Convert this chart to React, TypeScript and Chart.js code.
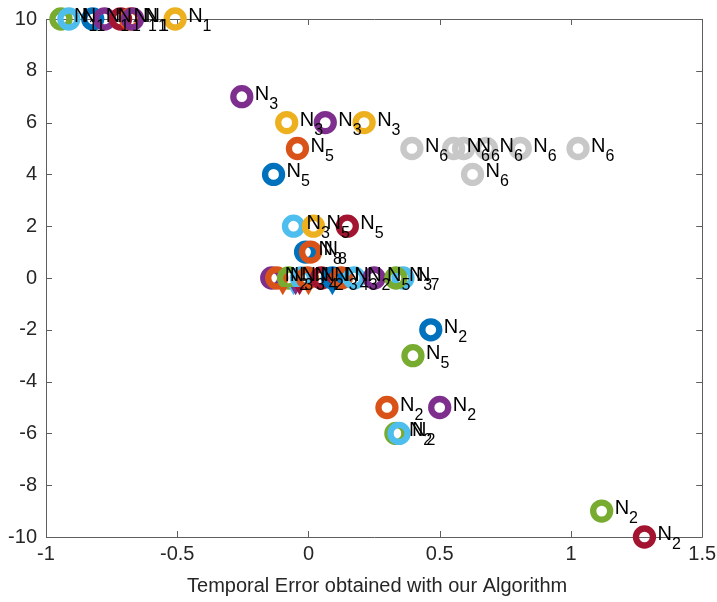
import React, { useEffect, useRef } from 'react';
import { Chart, registerables } from 'chart.js';

Chart.register(...registerables);

const FONT = '"Liberation Sans", Arial, Helvetica, sans-serif';

const seriesColors = ['#0072BD', '#D95319', '#EDB120', '#7E2F8E', '#77AC30', '#4DBEEE', '#A2142F', '#C8C8C8'];

const xTickValues = [-1, -0.5, 0, 0.5, 1, 1.5];
const xTickLabels = ['-1', '-0.5', '0', '0.5', '1', '1.5'];
const yTickValues = [-10, -8, -6, -4, -2, 0, 2, 4, 6, 8, 10];
const yTickLabels = ['-10', '-8', '-6', '-4', '-2', '0', '2', '4', '6', '8', '10'];
const xAxisTitle = 'Temporal Error obtained with our Algorithm';

// ring markers (x, y, colour index, subscript of the N label)
const ringX = [
  -0.943, -0.913, -0.822, -0.777, -0.716, -0.678, -0.670, -0.508,
  -0.254,
  -0.083, 0.064, 0.212,
  -0.042, 0.394, 0.553, 0.591, 0.678, 0.807, 1.027,
  -0.133, 0.625,
  -0.057, 0.019, 0.148,
  -0.011, 0.008,
  -0.140, -0.121, -0.076, -0.027, -0.004, 0.049, 0.091, 0.125, 0.174, 0.250, 0.360, 0.333,
  0.466, 0.398, 0.299, 0.500, 0.333, 0.345, 1.117, 1.280,
];
const ringY = [
  10, 10, 10, 10, 10, 10, 10, 10,
  7,
  6, 6, 6,
  5, 5, 5, 5, 5, 5, 5,
  4, 4,
  2, 2, 2,
  1, 1,
  0, 0, 0, 0, 0, 0, 0, 0, 0, 0, 0, 0,
  -2, -3, -5, -5, -6, -6, -9, -10,
];
const ringColor = [
  4, 5, 0, 3, 6, 1, 3, 2,
  3,
  2, 3, 2,
  1, 7, 7, 7, 7, 7, 7,
  0, 7,
  5, 2, 6,
  0, 1,
  3, 1, 4, 5, 1, 6, 0, 1, 5, 3, 5, 4,
  0, 4, 1, 3, 4, 5, 4, 6,
];
const ringSub = [
  '1', '1', '1', '1', '1', '1', '1', '1',
  '3',
  '3', '3', '3',
  '5', '6', '6', '6', '6', '6', '6',
  '5', '6',
  '3', '5', '5',
  '8', '8',
  '2', '3', '3', '4', '2', '3', '4', '3', '2', '5', '7', '3',
  '2', '5', '2', '2', '2', '2', '2', '2',
];

// small downward triangles under the cluster at zero
const triX = [-0.098, -0.057, -0.049, -0.034, 0.0, 0.091];
const triY = [-0.45, -0.45, -0.45, -0.45, -0.45, -0.45];
const triColor = [1, 5, 3, 6, 1, 0];

const boxPlugin = {
  id: 'matlabBox',
  beforeDatasetsDraw(chart: any) {
    const { ctx, chartArea } = chart;
    const { left, right, top, bottom } = chartArea;
    const xs = chart.scales.x;
    const ys = chart.scales.y;
    ctx.save();
    ctx.strokeStyle = '#5e5e5e';
    ctx.lineWidth = 1;
    ctx.beginPath();
    ctx.rect(Math.round(left) + 0.5, Math.round(top) + 0.5, Math.round(right - left), Math.round(bottom - top));
    const tl = 6;
    xTickValues.forEach((v) => {
      const px = Math.round(xs.getPixelForValue(v)) + 0.5;
      ctx.moveTo(px, bottom);
      ctx.lineTo(px, bottom - tl);
      ctx.moveTo(px, top);
      ctx.lineTo(px, top + tl);
    });
    yTickValues.forEach((v) => {
      const py = Math.round(ys.getPixelForValue(v)) + 0.5;
      ctx.moveTo(left, py);
      ctx.lineTo(left + tl, py);
      ctx.moveTo(right, py);
      ctx.lineTo(right - tl, py);
    });
    ctx.stroke();
    ctx.restore();
  },
};

const labelPlugin = {
  id: 'nLabels',
  afterDatasetsDraw(chart: any) {
    const ctx = chart.ctx;
    const meta = chart.getDatasetMeta(1);
    ctx.save();
    ctx.fillStyle = '#000000';
    ctx.textAlign = 'left';
    ctx.textBaseline = 'alphabetic';
    meta.data.forEach((pt: any, i: number) => {
      const x = pt.x + 13;
      const y = pt.y;
      ctx.font = `20px ${FONT}`;
      ctx.fillText('N', x, y + 3);
      const w = ctx.measureText('N').width;
      ctx.font = `16px ${FONT}`;
      ctx.fillText(ringSub[i], x + w, y + 12);
    });
    ctx.restore();
  },
  afterDraw(chart: any) {
    const ctx = chart.ctx;
    const { left, right } = chart.chartArea;
    ctx.save();
    ctx.fillStyle = '#262626';
    ctx.font = `20px ${FONT}`;
    ctx.textAlign = 'center';
    ctx.textBaseline = 'alphabetic';
    ctx.fillText(xAxisTitle, (left + right) / 2 + 3, 592);
    ctx.restore();
  },
};

export default function App() {
  const canvasRef = useRef<HTMLCanvasElement | null>(null);

  useEffect(() => {
    const canvas = canvasRef.current;
    if (!canvas) return;

    const triData = triX.map((x, i) => ({ x, y: triY[i] }));
    const ringData = ringX.map((x, i) => ({ x, y: ringY[i] }));

    const chart = new Chart(canvas, {
      type: 'scatter',
      data: {
        datasets: [
          {
            data: triData,
            pointStyle: 'triangle',
            rotation: 180,
            pointRadius: 5.5,
            pointBorderWidth: 0,
            pointBackgroundColor: triColor.map((c) => seriesColors[c]),
            pointBorderColor: triColor.map((c) => seriesColors[c]),
            clip: false,
          } as any,
          {
            data: ringData,
            pointStyle: 'circle',
            pointRadius: 8.5,
            pointBorderWidth: 6.3,
            pointBackgroundColor: 'rgba(0,0,0,0)',
            pointBorderColor: ringColor.map((c) => seriesColors[c]),
            clip: false,
          } as any,
        ],
      },
      options: {
        responsive: false,
        animation: false,
        events: [],
        layout: { padding: { top: 19, right: 13.5, left: 0, bottom: 0 } },
        plugins: {
          legend: { display: false },
          tooltip: { enabled: false },
          title: { display: false },
        },
        scales: {
          x: {
            type: 'linear',
            min: -1,
            max: 1.5,
            grid: { display: false, drawTicks: false },
            border: { display: false },
            afterBuildTicks: (s: any) => {
              s.ticks = xTickValues.map((v) => ({ value: v }));
            },
            afterFit: (s: any) => {
              s.height = 65;
              s.paddingLeft = 0;
              s.paddingRight = 0;
            },
            ticks: {
              autoSkip: false,
              maxRotation: 0,
              padding: 5,
              color: '#262626',
              font: { family: FONT, size: 20 },
              callback: (v: any) => xTickLabels[xTickValues.indexOf(Number(v))],
            },
          },
          y: {
            type: 'linear',
            min: -10,
            max: 10,
            grid: { display: false, drawTicks: false },
            border: { display: false },
            afterBuildTicks: (s: any) => {
              s.ticks = yTickValues.map((v) => ({ value: v }));
            },
            afterFit: (s: any) => {
              s.width = 46;
              s.paddingTop = 0;
              s.paddingBottom = 0;
            },
            ticks: {
              autoSkip: false,
              padding: 9,
              color: '#262626',
              font: { family: FONT, size: 20 },
              callback: (v: any) => yTickLabels[yTickValues.indexOf(Number(v))],
            },
          },
        },
      },
      plugins: [boxPlugin, labelPlugin],
    });

    return () => {
      chart.destroy();
    };
  }, []);

  return (
    <div style={{ position: 'fixed', left: 0, top: 0, width: 717, height: 602, background: '#ffffff' }}>
      <canvas ref={canvasRef} width={717} height={602} style={{ display: 'block' }} />
    </div>
  );
}
